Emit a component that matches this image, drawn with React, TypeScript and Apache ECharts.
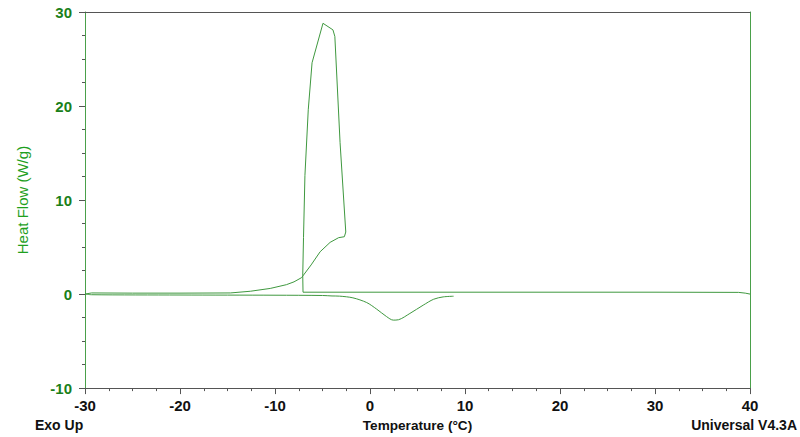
import React, { useEffect, useRef } from "react";
import * as echarts from "echarts";

// Cooling run (trace order: from 40 °C down to -30 °C, with recalescence loop)
const coolingTemp = [
  40, 39.5, 38.8, 30, 20, 10, 0, -7.05, -7.08, -7.0, -6.85, -6.5, -6.1, -4.95,
  -3.9, -3.7, -3.15, -2.55, -2.7, -3.3, -4.2, -5.25, -6.2, -7.2, -8.0, -8.8,
  -10.5, -12.6, -14.7, -20, -25, -29.3, -30,
];
const coolingHeat = [
  0.0, 0.1, 0.18, 0.2, 0.2, 0.2, 0.2, 0.2, 2.0, 6.0, 12.6, 19.6, 24.6, 28.8,
  28.1, 27.4, 16.1, 6.6, 6.1, 6.0, 5.5, 4.5, 3.1, 1.75, 1.3, 1.0, 0.6, 0.3,
  0.12, 0.1, 0.1, 0.12, 0.0,
];

// Heating run (from -30 °C up to ~9 °C)
const heatingTemp = [
  -30, -29.3, -20, -10, -5, -4, -3.2, -1.8, -0.35, 0.7, 1.75, 2.45, 3.0, 4.2,
  5.6, 6.7, 7.7, 8.8,
];
const heatingHeat = [
  0.0, -0.07, -0.1, -0.12, -0.15, -0.2, -0.22, -0.4, -0.9, -1.6, -2.4, -2.77,
  -2.73, -2.06, -1.18, -0.55, -0.3, -0.23,
];

const xMin = -30;
const xMax = 40;
const yMin = -10;
const yMax = 30;

const FONT = "'Liberation Sans', Arial, sans-serif";
const LINE_GREEN = "#3f983f";

export default function App() {
  const ref = useRef<HTMLDivElement>(null);

  useEffect(() => {
    document.body.style.margin = "0";
    if (!ref.current) return;
    const chart = echarts.init(ref.current, undefined, { renderer: "svg" });
    const cooling = coolingTemp.map((t, i) => [t, coolingHeat[i]]);
    const heating = heatingTemp.map((t, i) => [t, heatingHeat[i]]);

    chart.setOption({
      animation: false,
      backgroundColor: "#ffffff",
      textStyle: { fontFamily: FONT },
      grid: { left: 85, right: 50, top: 12, bottom: 47 },
      xAxis: [
        {
          type: "value",
          min: xMin,
          max: xMax,
          interval: 10,
          name: "Temperature (°C)",
          nameLocation: "middle",
          nameGap: 29,
          nameTextStyle: { color: "#111", fontSize: 13.6, fontWeight: "bold", fontFamily: FONT },
          axisLine: { show: true, onZero: false, lineStyle: { color: "#555", width: 1 } },
          axisTick: { show: true, length: 6, lineStyle: { color: "#555" } },
          minorTick: { show: true, splitNumber: 4, length: 3, lineStyle: { color: "#555" } },
          axisLabel: { color: "#111", fontSize: 15, fontWeight: "bold", margin: 10, fontFamily: FONT },
          splitLine: { show: false },
          minorSplitLine: { show: false },
        },
        {
          type: "value",
          position: "top",
          min: xMin,
          max: xMax,
          axisLine: { show: true, onZero: false, lineStyle: { color: "#555", width: 1 } },
          axisTick: { show: false },
          axisLabel: { show: false },
          splitLine: { show: false },
        },
      ],
      yAxis: [
        {
          type: "value",
          min: yMin,
          max: yMax,
          interval: 10,
          name: "Heat Flow (W/g)",
          nameLocation: "middle",
          nameGap: 55,
          nameTextStyle: { color: "#1ea01e", fontSize: 15, fontFamily: FONT },
          axisLine: { show: true, onZero: false, lineStyle: { color: "#4aa04a", width: 1 } },
          axisTick: { show: true, length: 6, lineStyle: { color: "#555" } },
          minorTick: { show: true, splitNumber: 4, length: 3, lineStyle: { color: "#555" } },
          axisLabel: { color: "#1a801a", fontSize: 15, fontWeight: "bold", margin: 13, fontFamily: FONT },
          splitLine: { show: false },
          minorSplitLine: { show: false },
        },
        {
          type: "value",
          position: "right",
          min: yMin,
          max: yMax,
          axisLine: { show: true, onZero: false, lineStyle: { color: "#4aa04a", width: 1 } },
          axisTick: { show: false },
          axisLabel: { show: false },
          splitLine: { show: false },
        },
      ],
      series: [
        {
          type: "line",
          name: "Cooling",
          xAxisIndex: 0,
          yAxisIndex: 0,
          data: cooling,
          showSymbol: false,
          symbol: "none",
          lineStyle: { color: LINE_GREEN, width: 1 },
        },
        {
          type: "line",
          name: "Heating",
          xAxisIndex: 0,
          yAxisIndex: 0,
          data: heating,
          showSymbol: false,
          symbol: "none",
          smooth: 0.3,
          lineStyle: { color: LINE_GREEN, width: 1 },
        },
      ],
      graphic: [
        {
          type: "text",
          left: 35,
          top: 418,
          style: { text: "Exo Up", fill: "#111", font: `bold 14px ${FONT}` },
        },
        {
          type: "text",
          right: 3,
          top: 418,
          style: { text: "Universal V4.3A", fill: "#111", font: `bold 14px ${FONT}` },
        },
      ],
    });

    return () => chart.dispose();
  }, []);

  return <div ref={ref} style={{ width: 800, height: 437 }} />;
}
